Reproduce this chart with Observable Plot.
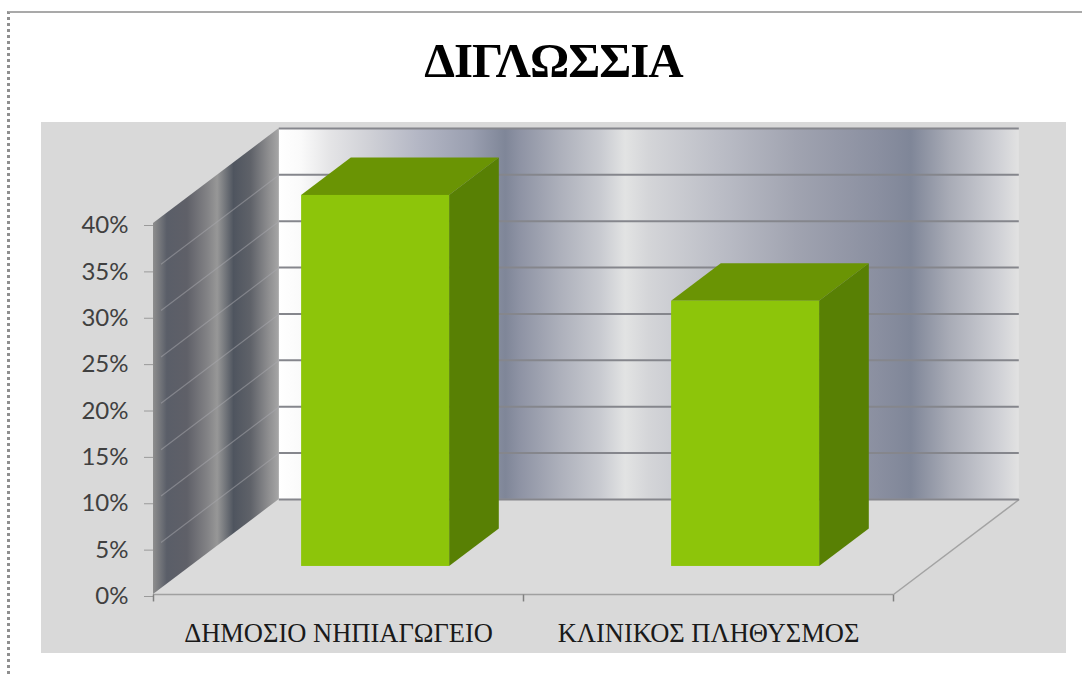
<!DOCTYPE html>
<html lang="el">
<head>
<meta charset="utf-8">
<title>ΔΙΓΛΩΣΣΙΑ</title>
<script src="https://cdn.jsdelivr.net/npm/d3@7"></script>
<script src="https://cdn.jsdelivr.net/npm/@observablehq/plot@0.6"></script>
<style>
  html, body { margin: 0; background: #fff; }
  body { width: 1082px; height: 674px; position: relative; overflow: hidden; }
  #frame { position: absolute; left: 7px; top: 11px; right: 0; bottom: 0;
           border-top: 2px solid #a9a9a9; border-left: 3px dotted #8f8f8f; }
  h1 { position: relative; margin: 0; height: 122px; width: 1107px; text-align: center;
       font: bold 49px/122px "Liberation Serif", serif; color: #000; letter-spacing: -1px; }
  #chart { position: relative; margin-left: 41px; }
  #chart svg { display: block; }
</style>
</head>
<body>
<div id="frame"></div>
<h1>ΔΙΓΛΩΣΣΙΑ</h1>
<div id="chart"></div>
<script>
// Survey groups and their share of bilingual children (percent)
const categories = ["ΔΗΜΟΣΙΟ ΝΗΠΙΑΓΩΓΕΙΟ", "ΚΛΙΝΙΚΟΣ ΠΛΗΘΥΣΜΟΣ"];
const values = [40, 28.6];
const percentTicks = [0, 5, 10, 15, 20, 25, 30, 35, 40];
const categoryEdges = [0, 1, 2];

// Oblique projection: one unit of depth moves a point right on x and up on y
const depthX = 0.34;
const depthY = 10.25;
const barWidth = 0.4;
const barNear = 0.295;
const barFar = 0.69;
const yMax = 40;
const xTickLength = 0.75;

// Brushed-metal stops for the walls
const backWallStops = [
  [0, "#ffffff"], [0.03, "#fafafa"], [0.07, "#e4e4e6"], [0.124, "#cfd0d6"], [0.19, "#b3b6c4"],
  [0.26, "#9a9fb0"], [0.306, "#7f8698"], [0.326, "#8e93a4"], [0.38, "#adb0bb"], [0.434, "#c8cad0"],
  [0.468, "#e2e3e3"], [0.5, "#d4d5d8"], [0.596, "#bbbdc6"], [0.7, "#a0a3b0"], [0.81, "#8a8fa0"],
  [0.854, "#7f8698"], [0.906, "#a8abb6"], [0.973, "#d0d1d6"], [1, "#e2e2e2"]
];
const sideWallStops = [
  [0, "#8e8e8e"], [0.11, "#5a5e68"], [0.27, "#5f6068"], [0.43, "#828285"], [0.51, "#979797"],
  [0.64, "#4f555f"], [0.776, "#5f6269"], [0.912, "#8c8c8e"], [1, "#a6a6a6"]
];

const project = (u, v, w) => ({x: u + w * depthX, y: v + w * depthY});

function gradient(defs, id, stops) {
  const g = defs.append("linearGradient").attr("id", id).attr("x1", 0).attr("x2", 1).attr("y1", 0).attr("y2", 0);
  for (const [offset, color] of stops) g.append("stop").attr("offset", offset).attr("stop-color", color);
}

function gradientDefs() {
  const defs = d3.create("svg:defs");
  gradient(defs, "back-wall", backWallStops);
  gradient(defs, "side-wall", sideWallStops);
  return defs.node();
}

const bars = categories.map((name, i) => {
  const u1 = i + 0.5 - barWidth / 2;
  const u2 = i + 0.5 + barWidth / 2;
  const base = barNear * depthY;
  return {name, value: values[i], u1, u2, base, top: base + values[i]};
});

// Right face of each bar: a band with vertical ends
const barSides = bars.flatMap((b) => [barNear, barFar].map((w) => ({
  name: b.name,
  x: project(b.u2, 0, w).x,
  y1: project(0, 0, w).y,
  y2: project(0, b.value, w).y
})));

// Top face of each bar: a band with horizontal ends
const barTops = bars.flatMap((b) => [barNear, barFar].map((w) => ({
  name: b.name,
  y: project(0, b.value, w).y,
  x1: project(b.u1, 0, w).x,
  x2: project(b.u2, 0, w).x
})));

const floor = [0, 1].map((w) => ({
  y: project(0, 0, w).y,
  x1: project(0, 0, w).x,
  x2: project(2, 0, w).x
}));

const sideWall = [0, 1].map((w) => ({
  x: project(0, 0, w).x,
  y1: project(0, 0, w).y,
  y2: project(0, yMax, w).y
}));

const backWall = [{x1: depthX, x2: 2 + depthX, y1: depthY, y2: yMax + depthY}];

const chart = Plot.plot({
  width: 1025,
  height: 531,
  marginLeft: 112,
  marginRight: 173,
  marginTop: 101,
  marginBottom: 59,
  style: {background: "#d9d9d9", overflow: "visible"},
  x: {domain: [0, 2], axis: null},
  y: {domain: [0, yMax], axis: null},
  marks: [
    gradientDefs,

    // Floor and its outline
    Plot.areaX(floor, {y: "y", x1: "x1", x2: "x2", fill: "#dbdbdb"}),
    Plot.link([{a: project(2, 0, 0), b: project(2, 0, 1)}], {
      x1: (d) => d.a.x, y1: (d) => d.a.y, x2: (d) => d.b.x, y2: (d) => d.b.y,
      stroke: "#a3a3a3", strokeWidth: 1.5
    }),
    Plot.ruleY([0], {x1: () => 0, x2: () => 2, stroke: "#a0a0a0", strokeWidth: 1.5}),

    // Back wall with its gridlines
    Plot.rect(backWall, {x1: "x1", x2: "x2", y1: "y1", y2: "y2", fill: "url(#back-wall)"}),
    Plot.ruleY(percentTicks, {
      y: (v) => v + depthY, x1: () => depthX, x2: () => 2 + depthX, stroke: "#85868c", strokeWidth: 2
    }),

    // Side wall with its gridlines
    Plot.areaY(sideWall, {x: "x", y1: "y1", y2: "y2", fill: "url(#side-wall)"}),
    Plot.link(percentTicks.slice(1, -1), {
      x1: () => depthX * 0.06,
      y1: (v) => v + depthY * 0.06,
      x2: () => depthX,
      y2: (v) => v + depthY,
      stroke: "#a9aab0",
      strokeOpacity: 0.5,
      strokeWidth: 1.2
    }),

    // Bars: side, top, then front face
    Plot.areaY(barSides, {x: "x", y1: "y1", y2: "y2", z: "name", fill: "#588004"}),
    Plot.areaX(barTops, {y: "y", x1: "x1", x2: "x2", z: "name", fill: "#6a9404"}),
    Plot.rect(bars, {
      x1: (d) => project(d.u1, 0, barNear).x,
      x2: (d) => project(d.u2, 0, barNear).x,
      y1: "base",
      y2: "top",
      fill: "#8dc50a"
    }),

    // Axes
    Plot.axisY(percentTicks, {
      anchor: "left",
      tickSize: 9,
      tickPadding: 16,
      stroke: "#9a9a9a",
      fill: "#404040",
      tickFormat: (v) => `${v}%`,
      fontFamily: "Lato, sans-serif",
      fontSize: 24,
      dy: 2
    }),
    Plot.link(categoryEdges, {
      x1: (d) => d,
      x2: (d) => d,
      y1: () => 0,
      y2: () => -xTickLength,
      stroke: "#808080",
      strokeWidth: 1.5
    }),
    Plot.text(categories, {
      x: (d, i) => i + 0.5,
      text: (d) => d,
      frameAnchor: "bottom",
      dy: 47,
      fontFamily: "'Liberation Serif', serif",
      fontSize: 26.5,
      fill: "#1a1a1a"
    })
  ]
});

document.getElementById("chart").append(chart);
</script>
</body>
</html>
